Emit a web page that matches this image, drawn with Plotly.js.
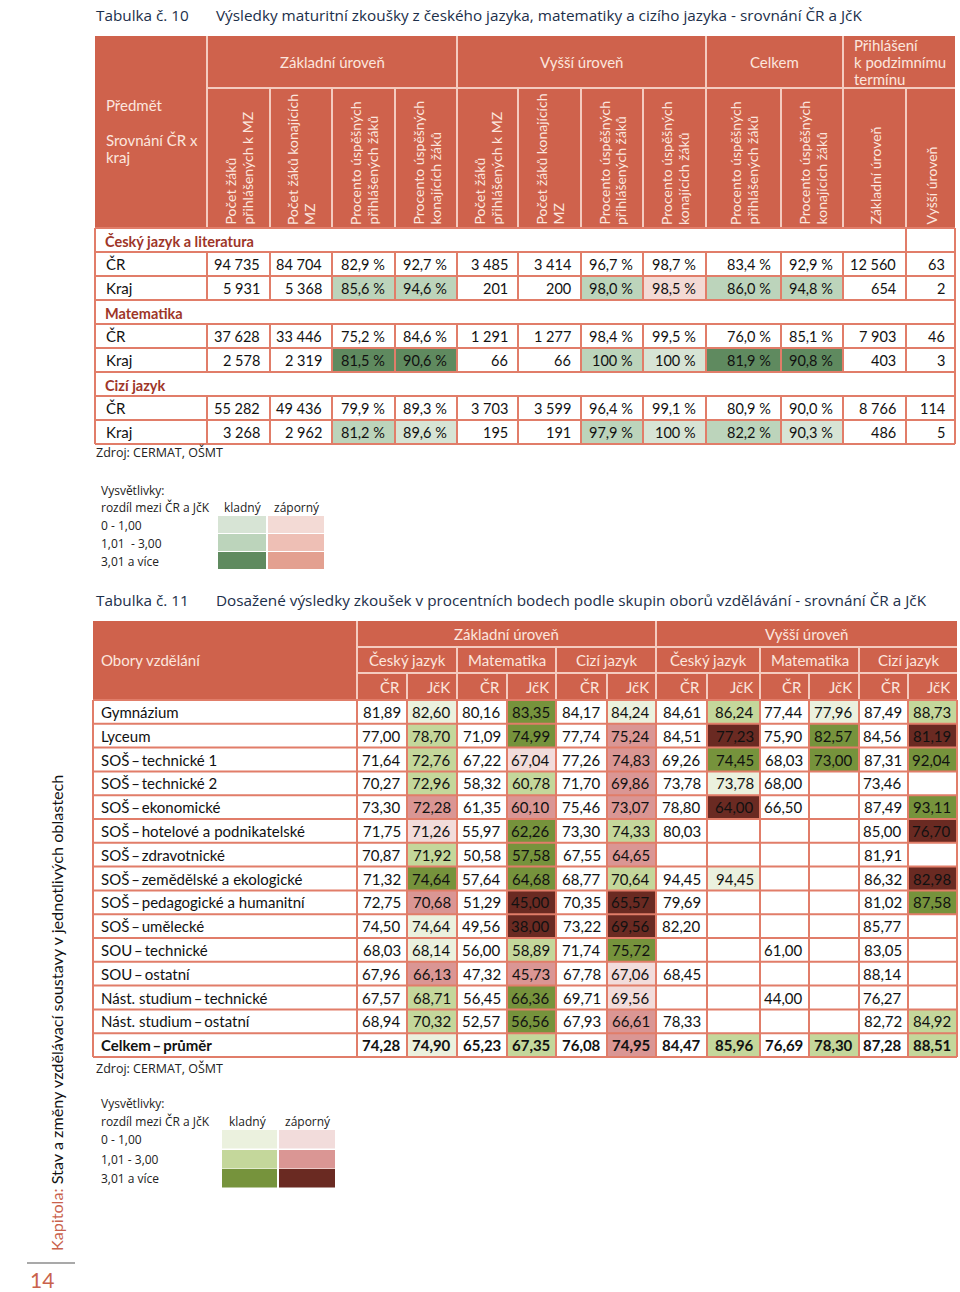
<!DOCTYPE html>
<html><head><meta charset="utf-8">
<script src="https://cdn.plot.ly/plotly-3.0.1.min.js"></script>
<style>html,body{margin:0;padding:0;background:#fff}</style>
</head><body><div id="chart" style="width:960px;height:1292px"></div>
<script>
// ================= DATA =================
// Tabulka č. 10
const t10Title = "Výsledky maturitní zkoušky z českého jazyka, matematiky a cizího jazyka - srovnání ČR a JčK";
const t10Subjects = ["Český jazyk a literatura", "Matematika", "Cizí jazyk"];
const t10RowLabels = ["ČR", "Kraj"];
const t10Groups = ["Základní úroveň", "Vyšší úroveň", "Celkem"];
const t10GroupLast = ["Přihlášení", "k podzimnímu", "termínu"];
const t10ColHeaders = [
  ["Počet žáků", "přihlášených k MZ"], ["Počet žáků konajících", "MZ"],
  ["Procento úspěšných", "přihlášených žáků"], ["Procento úspěšných", "konajících žáků"],
  ["Počet žáků", "přihlášených k MZ"], ["Počet žáků konajících", "MZ"],
  ["Procento úspěšných", "přihlášených žáků"], ["Procento úspěšných", "konajících žáků"],
  ["Procento úspěšných", "přihlášených žáků"], ["Procento úspěšných", "konajících žáků"],
  ["Základní úroveň"], ["Vyšší úroveň"]
];
const cjCR   = [94735, 84704, 82.9, 92.7, 3485, 3414, 96.7, 98.7, 83.4, 92.9, 12560, 63];
const cjKraj = [5931, 5368, 85.6, 94.6, 201, 200, 98.0, 98.5, 86.0, 94.8, 654, 2];
const maCR   = [37628, 33446, 75.2, 84.6, 1291, 1277, 98.4, 99.5, 76.0, 85.1, 7903, 46];
const maKraj = [2578, 2319, 81.5, 90.6, 66, 66, 100, 100, 81.9, 90.8, 403, 3];
const czCR   = [55282, 49436, 79.9, 89.3, 3703, 3599, 96.4, 99.1, 80.9, 90.0, 8766, 114];
const czKraj = [3268, 2962, 81.2, 89.6, 195, 191, 97.9, 100, 82.2, 90.3, 486, 5];
// shading class: +1..+3 green (kladný), -1..-3 red (záporný)
const cjKrajShade = [0, 0, 2, 2, 0, 0, 2, -1, 2, 2, 0, 0];
const maKrajShade = [0, 0, 3, 3, 0, 0, 2, 1, 3, 3, 0, 0];
const czKrajShade = [0, 0, 2, 1, 0, 0, 2, 1, 2, 1, 0, 0];
const legendRanges1 = ["0 - 1,00", "1,01  - 3,00", "3,01 a více"];

// Tabulka č. 11
const t11Title = "Dosažené výsledky zkoušek v procentních bodech podle skupin oborů vzdělávání - srovnání ČR a JčK";
const t11Levels = ["Základní úroveň", "Vyšší úroveň"];
const t11Subjects = ["Český jazyk", "Matematika", "Cizí jazyk"];
const t11Areas = ["ČR", "JčK"];
const t11Obory = ["Gymnázium", "Lyceum", "SOŠ – technické 1", "SOŠ – technické 2", "SOŠ – ekonomické",
  "SOŠ – hotelové a podnikatelské", "SOŠ – zdravotnické", "SOŠ – zemědělské a ekologické",
  "SOŠ – pedagogické a humanitní", "SOŠ – umělecké", "SOU – technické", "SOU – ostatní",
  "Nást. studium – technické", "Nást. studium – ostatní", "Celkem – průměr"];
const zuCjCR  = [81.89, 77.00, 71.64, 70.27, 73.30, 71.75, 70.87, 71.32, 72.75, 74.50, 68.03, 67.96, 67.57, 68.94, 74.28];
const zuCjJcK = [82.60, 78.70, 72.76, 72.96, 72.28, 71.26, 71.92, 74.64, 70.68, 74.64, 68.14, 66.13, 68.71, 70.32, 74.90];
const zuMaCR  = [80.16, 71.09, 67.22, 58.32, 61.35, 55.97, 50.58, 57.64, 51.29, 49.56, 56.00, 47.32, 56.45, 52.57, 65.23];
const zuMaJcK = [83.35, 74.99, 67.04, 60.78, 60.10, 62.26, 57.58, 64.68, 45.00, 38.00, 58.89, 45.73, 66.36, 56.56, 67.35];
const zuCzCR  = [84.17, 77.74, 77.26, 71.70, 75.46, 73.30, 67.55, 68.77, 70.35, 73.22, 71.74, 67.78, 69.71, 67.93, 76.08];
const zuCzJcK = [84.24, 75.24, 74.83, 69.86, 73.07, 74.33, 64.65, 70.64, 65.57, 69.56, 75.72, 67.06, 69.56, 66.61, 74.95];
const vuCjCR  = [84.61, 84.51, 69.26, 73.78, 78.80, 80.03, null, 94.45, 79.69, 82.20, null, 68.45, null, 78.33, 84.47];
const vuCjJcK = [86.24, 77.23, 74.45, 73.78, 64.00, null, null, 94.45, null, null, null, null, null, null, 85.96];
const vuMaCR  = [77.44, 75.90, 68.03, 68.00, 66.50, null, null, null, null, null, 61.00, null, 44.00, null, 76.69];
const vuMaJcK = [77.96, 82.57, 73.00, null, null, null, null, null, null, null, null, null, null, null, 78.30];
const vuCzCR  = [87.49, 84.56, 87.31, 73.46, 87.49, 85.00, 81.91, 86.32, 81.02, 85.77, 83.05, 88.14, 76.27, 82.72, 87.28];
const vuCzJcK = [88.73, 81.19, 92.04, null, 93.11, 76.70, null, 82.98, 87.58, null, null, null, null, 84.92, 88.51];
const zuCjShade = [1, 2, 2, 2, -2, -1, 2, 3, -2, 1, 1, -2, 2, 2, 1];
const zuMaShade = [3, 3, -1, 2, -2, 3, 3, 3, -3, -3, 2, -2, 3, 3, 2];
const zuCzShade = [1, -2, -2, -2, -2, 2, -2, 2, -3, -3, 3, -1, -1, -2, -2];
const vuCjShade = [2, -3, 3, 1, -3, 0, 0, 1, 0, 0, 0, 0, 0, 0, 2];
const vuMaShade = [1, 3, 3, 0, 0, 0, 0, 0, 0, 0, 0, 0, 0, 0, 2];
const vuCzShade = [2, -3, 3, 0, 3, -3, 0, -3, 3, 0, 0, 0, 0, 2, 2];
const legendRanges2 = ["0 - 1,00", "1,01 - 3,00", "3,01 a více"];

const sourceText = "Zdroj: CERMAT, OŠMT";
const sideLabel = "Kapitola:";
const sideText = "Stav a změny vzdělávací soustavy v jednotlivých oblastech";
const pageNumber = "14";

// ================= STYLE / GEOMETRY =================
const FONT = 'Lato, "Liberation Sans", sans-serif';
const UIFONT = '"Open Sans", "Noto Sans", sans-serif';
const HDR = '#cf624c', HDR_TXT = '#fce6de', HDR_LINE = '#f4cbbf', BORDER = '#e17d69';
const SECT = '#9e3628', TITLE = '#1c2f4a', SALMON = '#c9624c';
const SP = ' ';
const shade10 = {1: '#d7e4d5', 2: '#bcd4bb', 3: '#5f8a5f', '-1': '#f3dad5', '-2': '#eebfb5', '-3': '#e3a090'};
const shade11 = {1: '#ebf1de', 2: '#c4d79b', 3: '#76933c', '-1': '#f2dcdb', '-2': '#da9694', '-3': '#6a2a22'};
const T10X = [95, 207, 270, 332, 395, 457, 518, 581, 643, 706, 781, 843, 906, 955];
const T10 = {top: 36, grp: 88, hb: 228, rh: 24};
const T10FMT = ['n', 'n', 'p', 'p', 'n', 'n', 'p', 'p', 'p', 'p', 'n', 'n'];
const T11X = [93, 357, 407, 457, 507, 556, 607, 656, 707, 760, 809, 859, 908, 957];
const T11 = {top: 621, r1: 647, r2: 673, hb: 700, rh: 23.8};

const shapes = [], ann = [];
function rect(x0, y0, x1, y1, fill) {
  shapes.push({type: 'rect', xref: 'x', yref: 'y', x0, y0, x1, y1, fillcolor: fill, line: {width: 0}});
}
function seg(x0, y0, x1, y1, color, w) {
  shapes.push({type: 'line', xref: 'x', yref: 'y', x0, y0, x1, y1, line: {color, width: w}});
}
function txt(x, y, t, o) {
  o = o || {};
  ann.push({x, y, xref: 'x', yref: 'y', text: t, showarrow: false,
    xanchor: o.xa || 'left', yanchor: o.ya || 'middle', textangle: o.angle || 0, align: o.align || 'left',
    borderpad: 0,
    font: {family: o.family || FONT, size: o.size || 15, color: o.color || '#111'}});
}
const fmtInt = v => String(v).replace(/\B(?=(\d{3})+(?!\d))/g, SP);
const fmtPct = v => (v === 100 ? '100' : v.toFixed(1).replace('.', ',')) + SP + '%';
const fmtDec = v => v == null ? '' : v.toFixed(2).replace('.', ',');
const tightDash = s => s.replace(' – ', '\u2009–\u2009');

// ---------- Tabulka 10 ----------
txt(95, 15, 'Tabulka č. 10', {family: UIFONT, size: 15.3, color: TITLE});
txt(215, 15, t10Title, {family: UIFONT, size: 15.3, color: TITLE});
rect(T10X[0], T10.top, T10X[13], T10.hb, HDR);
seg(T10X[1], T10.grp, T10X[13], T10.grp, HDR_LINE, 2);
[1, 5, 9, 11].forEach(i => seg(T10X[i], T10.top, T10X[i], T10.hb, HDR_LINE, 2));
[2, 3, 4, 6, 7, 8, 10, 12].forEach(i => seg(T10X[i], T10.grp, T10X[i], T10.hb, HDR_LINE, 2));
[[1, 5], [5, 9], [9, 11]].forEach(([a, b], g) =>
  txt((T10X[a] + T10X[b]) / 2, (T10.top + T10.grp) / 2, t10Groups[g], {xa: 'center', color: HDR_TXT}));
t10GroupLast.forEach((l, i) => txt(T10X[11] + 10, 45 + i * 17, l, {color: HDR_TXT}));
txt(105, 105, 'Předmět', {color: HDR_TXT});
txt(105, 140, 'Srovnání ČR x', {color: HDR_TXT});
txt(105, 157, 'kraj', {color: HDR_TXT});
t10ColHeaders.forEach((lines, c) => {
  const cx = (T10X[c + 1] + T10X[c + 2]) / 2;
  lines.forEach((l, li) => {
    const off = lines.length === 1 ? 0 : (li === 0 ? -8.5 : 8.5);
    txt(cx + off, T10.hb - 2, l, {xa: 'center', ya: 'bottom', angle: -90, size: 14, color: HDR_TXT});
  });
});
const t10Blocks = [[cjCR, cjKraj, cjKrajShade], [maCR, maKraj, maKrajShade], [czCR, czKraj, czKrajShade]];
t10Blocks.forEach((blk, si) => {
  const y0 = T10.hb + si * 3 * T10.rh;
  txt(104, y0 + T10.rh / 2 + 1, '<b>' + t10Subjects[si] + '</b>', {color: SECT, size: 14.5});
  [[blk[0], null], [blk[1], blk[2]]].forEach(([vals, sh], ri) => {
    const ry = y0 + (ri + 1) * T10.rh;
    txt(105, ry + T10.rh / 2, t10RowLabels[ri]);
    vals.forEach((v, c) => {
      if (sh && sh[c]) rect(T10X[c + 1], ry, T10X[c + 2], ry + T10.rh, shade10[sh[c]]);
      const s = T10FMT[c] === 'p' ? fmtPct(v) : fmtInt(v);
      txt(T10X[c + 2] - 9, ry + T10.rh / 2, s, {xa: 'right', size: 14.5});
    });
    for (let c = 1; c < 13; c++) seg(T10X[c], ry, T10X[c], ry + T10.rh, BORDER, 2);
  });
});
for (let k = 0; k <= 9; k++) seg(T10X[0], T10.hb + k * T10.rh, T10X[13], T10.hb + k * T10.rh, BORDER, 2);
seg(T10X[0], T10.hb, T10X[0], T10.hb + 9 * T10.rh, BORDER, 2);
seg(T10X[13], T10.hb, T10X[13], T10.hb + 9 * T10.rh, BORDER, 2);
seg(T10X[12], T10.hb, T10X[12], T10.hb + T10.rh, BORDER, 2);
txt(95, 452, sourceText, {family: UIFONT, size: 12.5, color: '#222'});

// legend 1
txt(100, 490, 'Vysvětlivky:', {family: UIFONT, size: 12, color: '#222'});
txt(100, 507, 'rozdíl mezi ČR a JčK', {family: UIFONT, size: 12, color: '#222'});
txt(223, 507, 'kladný', {family: UIFONT, size: 12, color: '#222'});
txt(273, 507, 'záporný', {family: UIFONT, size: 12, color: '#222'});
const L1Y = [516, 534, 552];
legendRanges1.forEach((r, i) => {
  txt(100, L1Y[i] + 9, r, {family: UIFONT, size: 12, color: '#222'});
  rect(218, L1Y[i], 266, L1Y[i] + 17, shade10[i + 1]);
  rect(268, L1Y[i], 324, L1Y[i] + 17, shade10[-(i + 1)]);
});

// ---------- Tabulka 11 ----------
txt(95, 600, 'Tabulka č. 11', {family: UIFONT, size: 15.3, color: TITLE});
txt(215, 600, t11Title, {family: UIFONT, size: 15.3, color: TITLE});
rect(T11X[0], T11.top, T11X[13], T11.hb, HDR);
seg(T11X[1], T11.r1, T11X[13], T11.r1, HDR_LINE, 2);
seg(T11X[1], T11.r2, T11X[13], T11.r2, HDR_LINE, 2);
[1, 7].forEach(i => seg(T11X[i], T11.top, T11X[i], T11.hb, HDR_LINE, 2));
[3, 5, 9, 11].forEach(i => seg(T11X[i], T11.r1, T11X[i], T11.hb, HDR_LINE, 2));
[2, 4, 6, 8, 10, 12].forEach(i => seg(T11X[i], T11.r2, T11X[i], T11.hb, HDR_LINE, 2));
txt(100, (T11.r1 + T11.r2) / 2, 'Obory vzdělání', {color: HDR_TXT});
t11Levels.forEach((l, i) =>
  txt((T11X[1 + 6 * i] + T11X[7 + 6 * i]) / 2, (T11.top + T11.r1) / 2, l, {xa: 'center', color: HDR_TXT}));
for (let j = 0; j < 6; j++) {
  txt((T11X[1 + 2 * j] + T11X[3 + 2 * j]) / 2, (T11.r1 + T11.r2) / 2, t11Subjects[j % 3], {xa: 'center', color: HDR_TXT});
  t11Areas.forEach((a, k) => txt(T11X[2 + 2 * j + k] - 6, (T11.r2 + T11.hb) / 2, a, {xa: 'right', color: HDR_TXT}));
}
const t11Cols = [zuCjCR, zuCjJcK, zuMaCR, zuMaJcK, zuCzCR, zuCzJcK, vuCjCR, vuCjJcK, vuMaCR, vuMaJcK, vuCzCR, vuCzJcK];
const t11Shades = [null, zuCjShade, null, zuMaShade, null, zuCzShade, null, vuCjShade, null, vuMaShade, null, vuCzShade];
t11Obory.forEach((o, r) => {
  const ry = T11.hb + r * T11.rh, cy = ry + T11.rh / 2;
  const bold = r === t11Obory.length - 1;
  const b = s => bold ? '<b>' + s + '</b>' : s;
  txt(100, cy, b(tightDash(o)));
  t11Cols.forEach((col, c) => {
    const sh = t11Shades[c];
    if (sh && sh[r]) rect(T11X[c + 1], ry, T11X[c + 2], ry + T11.rh, shade11[sh[r]]);
    if (col[r] != null) txt(T11X[c + 2] - 5, cy, b(fmtDec(col[r])), {xa: 'right'});
  });
});
const t11Bottom = T11.hb + t11Obory.length * T11.rh;
for (let k = 0; k <= t11Obory.length; k++) seg(T11X[0], T11.hb + k * T11.rh, T11X[13], T11.hb + k * T11.rh, BORDER, 2);
T11X.forEach(x => seg(x, T11.hb, x, t11Bottom, BORDER, 2));
txt(95, 1068, sourceText, {family: UIFONT, size: 12.5, color: '#222'});

// legend 2
txt(100, 1103, 'Vysvětlivky:', {family: UIFONT, size: 12, color: '#222'});
txt(100, 1121, 'rozdíl mezi ČR a JčK', {family: UIFONT, size: 12, color: '#222'});
txt(228, 1121, 'kladný', {family: UIFONT, size: 12, color: '#222'});
txt(284, 1121, 'záporný', {family: UIFONT, size: 12, color: '#222'});
const L2Y = [1130, 1150, 1169];
legendRanges2.forEach((r, i) => {
  txt(100, L2Y[i] + 9.5, r, {family: UIFONT, size: 12, color: '#222'});
  rect(222, L2Y[i], 277, L2Y[i] + 18.5, shade11[i + 1]);
  rect(279, L2Y[i], 335, L2Y[i] + 18.5, shade11[-(i + 1)]);
});

// side caption + page number
txt(56, 1252, '<span style="color:' + SALMON + '">' + sideLabel + '</span> ' + sideText,
  {xa: 'center', ya: 'bottom', angle: -90, size: 16.2, color: '#111'});
seg(27, 1263, 75, 1263, '#555', 1.2);
txt(42, 1279, pageNumber, {xa: 'center', size: 21, color: SALMON});

Plotly.newPlot('chart', [{x: [], y: [], type: 'scatter', mode: 'markers', hoverinfo: 'skip'}], {
  width: 960, height: 1292, margin: {l: 0, r: 0, t: 0, b: 0},
  paper_bgcolor: '#fff', plot_bgcolor: '#fff', showlegend: false,
  xaxis: {range: [0, 960], visible: false, fixedrange: true},
  yaxis: {range: [1292, 0], visible: false, fixedrange: true},
  shapes: shapes, annotations: ann
}, {staticPlot: true});
</script></body></html>
